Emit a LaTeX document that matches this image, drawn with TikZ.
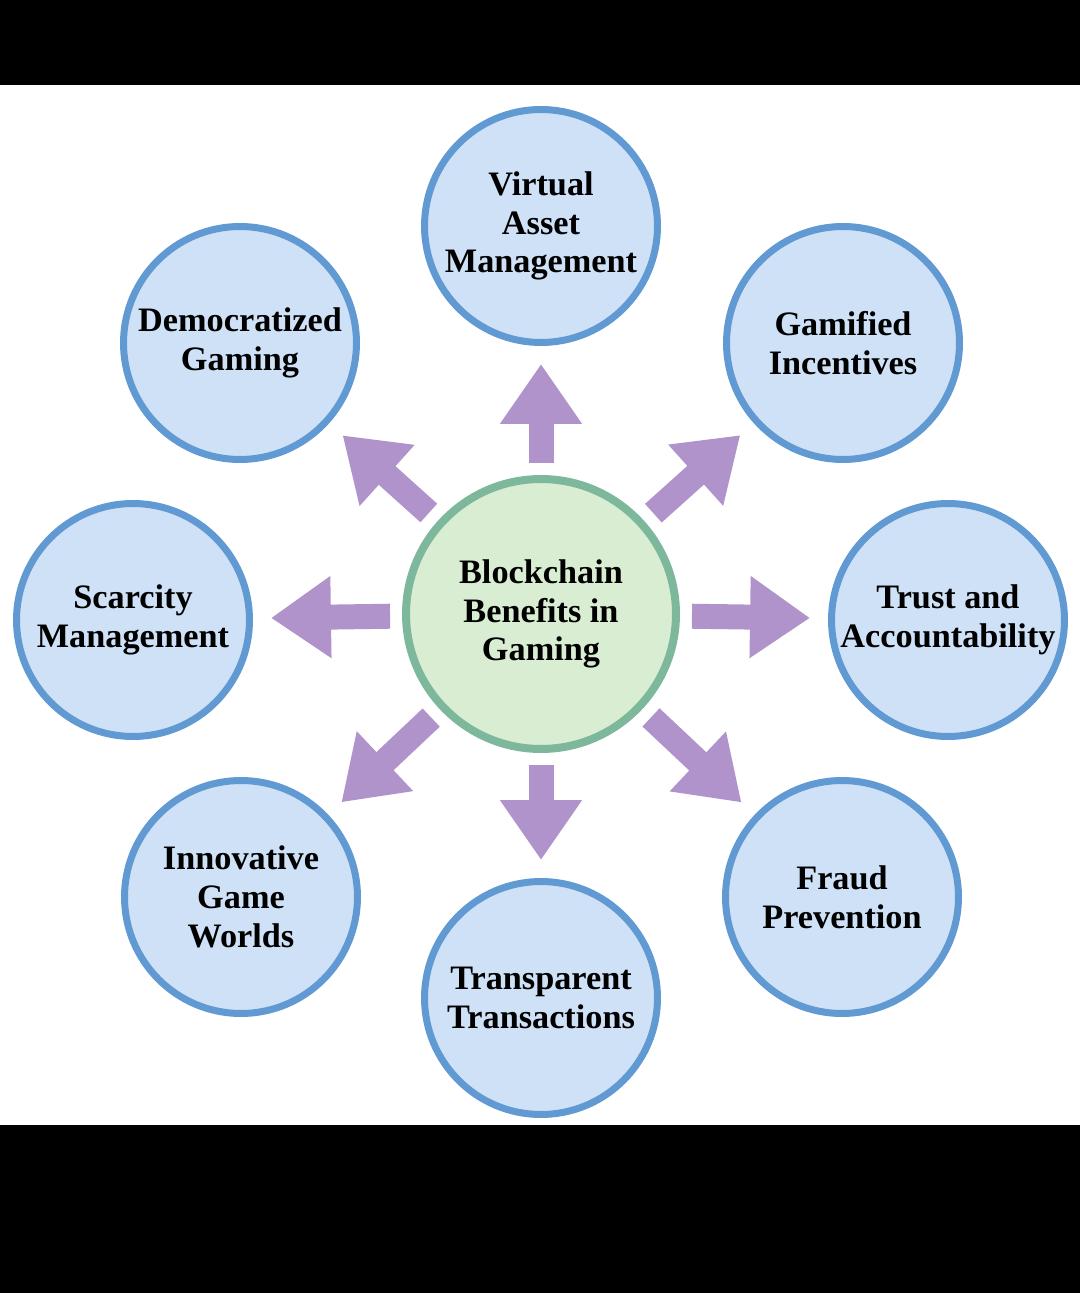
\documentclass[tikz,border=0pt]{standalone}
\usepackage{fontspec}
\setmainfont{Liberation Serif}
\usetikzlibrary{arrows.meta}

\definecolor{bordbleu}{HTML}{6199D3}
\definecolor{fondbleu}{HTML}{CFE1F6}
\definecolor{bordvert}{HTML}{7DB89C}
\definecolor{fondvert}{HTML}{D9EDD2}
\definecolor{violetfl}{HTML}{B193CB}

\begin{document}
\begin{tikzpicture}[x=0.02cm,y=-0.02cm,
    benef/.style={circle, draw=bordbleu, line width=0.14cm, fill=fondbleu,
        minimum size=4.66cm, inner sep=0pt, align=center,
        font=\bfseries\fontsize{19.5}{22}\selectfont},
    moyeu/.style={circle, draw=bordvert, line width=0.16cm, fill=fondvert,
        minimum size=5.4cm, inner sep=0pt, align=center,
        font=\bfseries\fontsize{19.5}{22}\selectfont},
    fleche/.style={draw=violetfl, line width=0.5cm,
        -{Triangle[width=1.56cm,length=1.2cm]},
        shorten <=0.24cm, shorten >=0.36cm}]

% fond : bandes noires en haut et en bas
\useasboundingbox (0,0) rectangle (1080,1293);
\fill[white] (0,0) rectangle (1080,1293);
\fill[black] (0,0) rectangle (1080,85);
\fill[black] (0,1125) rectangle (1080,1293);

% cercle central
\node[moyeu] (hub) at (541,614) {Blockchain\\Benefits in\\Gaming};

% les huit benefices
\node[benef] (vam) at (541,226) {Virtual\\Asset\\Management};
\node[benef] (gam) at (843,343) {Gamified\\Incentives};
\node[benef] (tru) at (948,620) {Trust and\\Accountability};
\node[benef] (fra) at (842,897) {Fraud\\Prevention};
\node[benef] (tra) at (541,998) {Transparent\\Transactions};
\node[benef] (inn) at (241,897) {Innovative\\Game\\Worlds};
\node[benef] (sca) at (133,620) {Scarcity\\Management};
\node[benef] (dem) at (240,343) {Democratized\\Gaming};

% fleches
\foreach \cible in {vam,gam,tru,fra,tra,inn,sca,dem}
    \draw[fleche] (hub) -- (\cible);
\end{tikzpicture}
\end{document}
